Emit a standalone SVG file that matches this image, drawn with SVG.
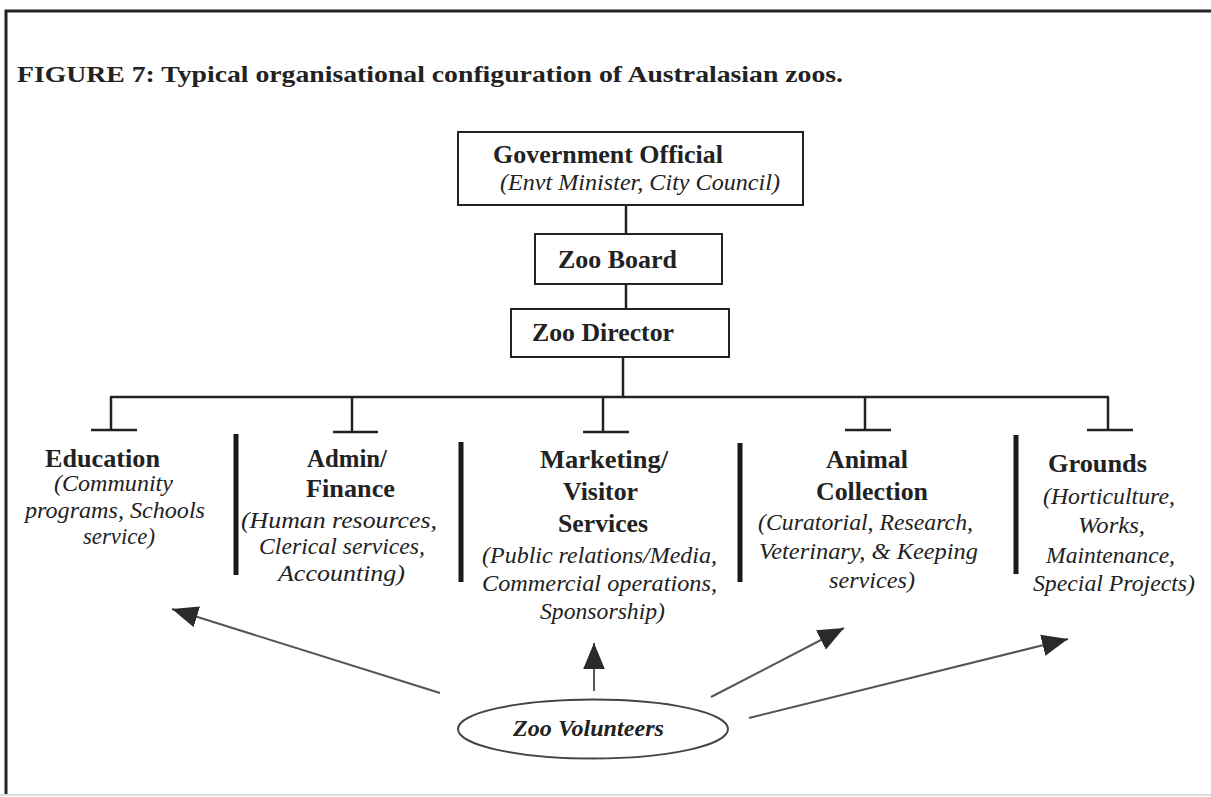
<svg xmlns="http://www.w3.org/2000/svg" width="1211" height="797" viewBox="0 0 1211 797">
  <style>
    .b{font-family:"Liberation Serif","Times New Roman",Times,serif;font-weight:bold;fill:#222}
    .i{font-family:"Liberation Serif","Times New Roman",Times,serif;font-style:italic;fill:#222}
    .t{font-size:24px}
    .h{font-size:26px}
    .d{font-size:25px}
    .s{font-size:23px}
    .box{fill:#fff;stroke:#222;stroke-width:2}
    .ln{stroke:#222;stroke-width:2.5;fill:none}
    .sep{stroke:#1a1a1a;stroke-width:5}
    .arr{stroke:#555;stroke-width:2;fill:none;marker-end:url(#head)}
  </style>
  <defs>
    <marker id="head" markerUnits="userSpaceOnUse" markerWidth="26" markerHeight="22" viewBox="0 0 24 20" refX="24" refY="10" orient="auto">
      <path d="M0,0 L24,10 L0,20 z" fill="#2a2a2a"/>
    </marker>
  </defs>
  <rect width="1211" height="797" fill="#fff"/>

  <!-- page frame -->
  <g id="frame">
    <path d="M6,795 V11 H1211" fill="none" stroke="#222" stroke-width="3"/>
    <line x1="0" y1="795" x2="1211" y2="795" stroke="#ddd" stroke-width="2"/>
  </g>

  <text class="b t" x="17" y="82" textLength="826" lengthAdjust="spacingAndGlyphs">FIGURE 7: Typical organisational configuration of Australasian zoos.</text>

  <!-- connectors -->
  <g id="connectors">
    <line class="ln" x1="626" y1="204" x2="626" y2="234"/>
    <line class="ln" x1="626" y1="284" x2="626" y2="309"/>
    <line class="ln" x1="623" y1="357" x2="623" y2="397"/>
    <line class="ln" x1="110" y1="397" x2="1109" y2="397"/>
    <!-- drops with T bars -->
    <path class="ln" d="M111,397 V430 M91,430 H137"/>
    <path class="ln" d="M352,397 V432 M333,432 H378"/>
    <path class="ln" d="M603,397 V432 M583,432 H629"/>
    <path class="ln" d="M865,397 V430 M845,430 H891"/>
    <path class="ln" d="M1108,397 V430 M1087,430 H1133"/>
    <!-- column separators -->
    <line class="sep" x1="236" y1="434" x2="236" y2="575"/>
    <line class="sep" x1="461" y1="442" x2="461" y2="582"/>
    <line class="sep" x1="740" y1="443" x2="740" y2="582"/>
    <line class="sep" x1="1016" y1="435" x2="1016" y2="574"/>
    <!-- volunteer arrows -->
    <line class="arr" x1="440" y1="693" x2="172" y2="609"/>
    <line class="arr" x1="594" y1="691" x2="594" y2="643"/>
    <line class="arr" x1="711" y1="697" x2="844" y2="628"/>
    <line class="arr" x1="749" y1="718" x2="1068" y2="639"/>
  </g>

  <g id="government">
    <rect class="box" x="458" y="132" width="345" height="73"/>
    <text class="b h" x="493" y="163" textLength="230" lengthAdjust="spacingAndGlyphs">Government Official</text>
    <text class="i s" x="500" y="190" textLength="280" lengthAdjust="spacingAndGlyphs">(Envt Minister, City Council)</text>
  </g>

  <g id="board">
    <rect class="box" x="535" y="234" width="187" height="50"/>
    <text class="b h" x="558" y="268" textLength="119" lengthAdjust="spacingAndGlyphs">Zoo Board</text>
  </g>

  <g id="director">
    <rect class="box" x="511" y="309" width="218" height="48"/>
    <text class="b h" x="532" y="341" textLength="142" lengthAdjust="spacingAndGlyphs">Zoo Director</text>
  </g>

  <g id="education">
    <text class="b d" x="45" y="467" textLength="115" lengthAdjust="spacingAndGlyphs">Education</text>
    <text class="i s" x="54" y="491" textLength="119" lengthAdjust="spacingAndGlyphs">(Community</text>
    <text class="i s" x="25" y="518" textLength="180" lengthAdjust="spacingAndGlyphs">programs, Schools</text>
    <text class="i s" x="83" y="544" textLength="72" lengthAdjust="spacingAndGlyphs">service)</text>
  </g>

  <g id="admin">
    <text class="b d" x="307" y="467" textLength="80" lengthAdjust="spacingAndGlyphs">Admin/</text>
    <text class="b d" x="306" y="497" textLength="89" lengthAdjust="spacingAndGlyphs">Finance</text>
    <text class="i s" x="241" y="528" textLength="196" lengthAdjust="spacingAndGlyphs">(Human resources,</text>
    <text class="i s" x="259" y="554" textLength="166" lengthAdjust="spacingAndGlyphs">Clerical services,</text>
    <text class="i s" x="278" y="581" textLength="127" lengthAdjust="spacingAndGlyphs">Accounting)</text>
  </g>

  <g id="marketing">
    <text class="b d" x="540" y="468" textLength="128" lengthAdjust="spacingAndGlyphs">Marketing/</text>
    <text class="b d" x="563" y="500" textLength="75" lengthAdjust="spacingAndGlyphs">Visitor</text>
    <text class="b d" x="558" y="532" textLength="90" lengthAdjust="spacingAndGlyphs">Services</text>
    <text class="i s" x="482" y="563" textLength="235" lengthAdjust="spacingAndGlyphs">(Public relations/Media,</text>
    <text class="i s" x="482" y="591" textLength="235" lengthAdjust="spacingAndGlyphs">Commercial  operations,</text>
    <text class="i s" x="540" y="619" textLength="125" lengthAdjust="spacingAndGlyphs">Sponsorship)</text>
  </g>

  <g id="animal">
    <text class="b d" x="826" y="468" textLength="82" lengthAdjust="spacingAndGlyphs">Animal</text>
    <text class="b d" x="816" y="500" textLength="112" lengthAdjust="spacingAndGlyphs">Collection</text>
    <text class="i s" x="758" y="530" textLength="215" lengthAdjust="spacingAndGlyphs">(Curatorial, Research,</text>
    <text class="i s" x="759" y="559" textLength="219" lengthAdjust="spacingAndGlyphs">Veterinary, &amp; Keeping</text>
    <text class="i s" x="829" y="588" textLength="86" lengthAdjust="spacingAndGlyphs">services)</text>
  </g>

  <g id="grounds">
    <text class="b d" x="1048" y="472" textLength="99" lengthAdjust="spacingAndGlyphs">Grounds</text>
    <text class="i s" x="1043" y="504" textLength="132" lengthAdjust="spacingAndGlyphs">(Horticulture,</text>
    <text class="i s" x="1078" y="533" textLength="67" lengthAdjust="spacingAndGlyphs">Works,</text>
    <text class="i s" x="1046" y="563" textLength="129" lengthAdjust="spacingAndGlyphs">Maintenance,</text>
    <text class="i s" x="1033" y="591" textLength="162" lengthAdjust="spacingAndGlyphs">Special Projects)</text>
  </g>

  <g id="volunteers">
    <ellipse cx="593" cy="729" rx="135" ry="29.5" fill="none" stroke="#444" stroke-width="2"/>
    <text class="b s" font-style="italic" x="513" y="736" textLength="151" lengthAdjust="spacingAndGlyphs">Zoo Volunteers</text>
  </g>
</svg>
